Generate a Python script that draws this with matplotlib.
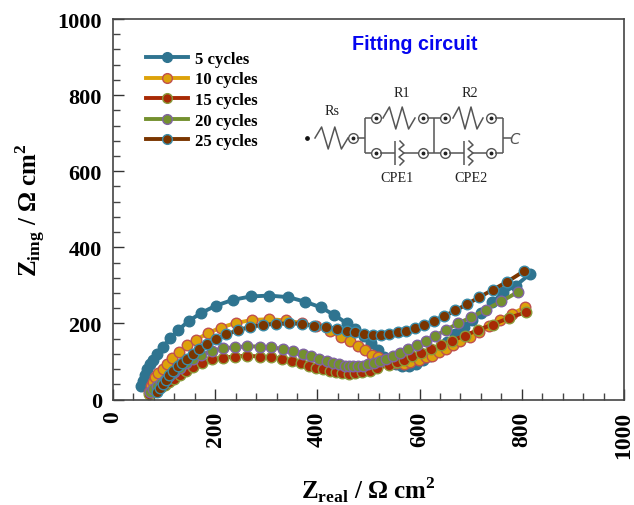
import matplotlib
matplotlib.use('Agg')
import matplotlib.pyplot as plt
import numpy as np
from matplotlib.ticker import MultipleLocator

plt.rcParams['font.family'] = 'Liberation Serif'
plt.rcParams['mathtext.fontset'] = 'custom'
plt.rcParams['mathtext.bf'] = 'Liberation Serif:bold'
plt.rcParams['mathtext.rm'] = 'Liberation Serif:bold'

labels = ['5 cycles', '10 cycles', '15 cycles', '20 cycles', '25 cycles']
fills = ['#2F7490', '#DDA20A', '#A82A05', '#74902F', '#7A3500']
edges = ['#2F7490', '#C0504D', '#8A9A3B', '#8064A2', '#3B8CA8']

x5 = [54, 58, 62, 67, 72, 79, 87, 98, 112, 128, 148, 173, 202, 235, 270, 306, 343, 376, 407, 433, 457, 474,
      491, 505, 518, 530, 542, 553, 566, 579, 592, 606, 621, 637, 654, 670, 686, 703, 721, 742, 764, 788, 816]
y5 = [36, 49, 64, 80, 93, 105, 120, 139, 161, 183, 206, 228, 247, 262, 271, 273, 269, 257, 242, 222, 201, 184,
      166, 148, 129, 111, 98, 92, 88, 88, 94, 103, 115, 130, 150, 172, 190, 209, 228, 255, 282, 299, 330]

x10 = [71, 74, 78, 82, 89, 97, 105, 116, 129, 144, 163, 185, 211, 240, 272, 305, 338, 369, 398, 424, 446,
       463, 480, 494, 507, 518, 530, 543, 553, 570, 582, 598, 612, 625, 638, 652, 666, 680, 699, 717, 736, 758, 780, 806]
y10 = [20, 35, 47, 58, 70, 80, 93, 109, 124, 142, 157, 174, 189, 201, 209, 211, 208, 201, 192, 179, 165,
       153, 140, 129, 118, 111, 104, 98, 95, 93, 98, 104, 111, 115, 124, 133, 142, 153, 165, 178, 192, 209, 225, 242]

x15 = [70, 79, 86, 93, 102, 110, 120, 131, 143, 156, 174, 193, 216, 239, 262, 287, 310, 331, 350, 368, 384, 398, 411,
       424, 436, 448, 461, 474, 487, 502, 517, 540, 555, 570, 586, 602, 622, 642, 664, 688, 715, 743, 774, 809]
y15 = [15, 20, 25, 32, 39, 47, 55, 65, 76, 86, 96, 106, 110, 113, 115, 113, 111, 107, 101, 95, 89, 83, 79,
       75, 71, 69, 67, 69, 72, 76, 82, 91, 98, 105, 114, 122, 133, 143, 155, 168, 183, 197, 214, 230]

x20 = [73, 79, 86, 93, 102, 110, 120, 131, 143, 156, 173, 193, 215, 239, 263, 287, 310, 332, 352, 371, 388, 403, 418,
       431, 443, 454, 462, 470, 480, 489, 499, 510, 522, 535, 547, 562, 577, 594, 612, 631, 652, 675, 701, 729, 760, 793]
y20 = [20, 28, 35, 43, 52, 62, 73, 84, 96, 106, 117, 127, 135, 137, 140, 139, 137, 133, 127, 120, 114, 107, 101,
       95, 92, 89, 87, 87, 87, 89, 92, 95, 100, 106, 114, 122, 132, 142, 154, 168, 183, 200, 216, 236, 258, 283]

x25 = [87, 92, 97, 103, 110, 118, 127, 135, 144, 156, 169, 184, 201, 222, 244, 269, 293, 319, 344, 369, 394, 416, 438, 457,
       474, 491, 509, 525, 541, 557, 574, 591, 609, 628, 648, 670, 692, 717, 744, 772, 804]
y25 = [20, 29, 40, 52, 64, 76, 87, 96, 106, 120, 133, 146, 159, 171, 182, 191, 196, 199, 200, 199, 194, 190, 186, 181,
       177, 172, 170, 170, 172, 177, 181, 188, 196, 207, 219, 234, 250, 269, 289, 310, 337]

series_x = [x5, x10, x15, x20, x25]
series_y = [y5, y10, y15, y20, y25]

fig = plt.figure(figsize=(6.34, 5.06), dpi=100)
ax = fig.add_axes([113 / 634, (506 - 400.5) / 506, 511 / 634, 380.5 / 506])

for xs, ys, lab, fc, ec in zip(series_x, series_y, labels, fills, edges):
    ax.plot(xs, ys, '-o', color=fc, mfc=fc, mec=ec, mew=1.0, ms=7.6, lw=2.8, label=lab)

ax.set_xlim(0, 1000)
ax.set_ylim(0, 1000)
ax.xaxis.set_major_locator(MultipleLocator(200))
ax.xaxis.set_minor_locator(MultipleLocator(40))
ax.yaxis.set_major_locator(MultipleLocator(200))
ax.yaxis.set_minor_locator(MultipleLocator(40))
ax.tick_params(which='major', direction='in', length=8, width=1.0, color='#333333', pad=8)
ax.tick_params(which='minor', direction='in', length=5, width=1.0, color='#444444')
for lab in ax.get_xticklabels():
    lab.set_rotation(90)
    lab.set_fontsize(17)
    lab.set_fontweight('bold')
for lab in ax.get_yticklabels():
    lab.set_fontsize(16)
    lab.set_fontweight('bold')
for sp in ax.spines.values():
    sp.set_color('#444444')
    sp.set_linewidth(1.2)

leg = ax.legend(loc='upper left', bbox_to_anchor=(33 / 511, (400.5 - 52) / 380.5), frameon=False,
                borderpad=0, borderaxespad=0, handlelength=2.5, handletextpad=0.42, labelspacing=0.27,
                prop={'family': 'Liberation Serif', 'weight': 'bold', 'size': 12})
for h in leg.get_lines():
    h.set_markersize(7)

fig.text(368 / 634, 1 - 499 / 506, r'Z$_{\mathbf{real}}$ / Ω cm$^{\mathbf{2}}$', fontsize=18, fontweight='bold',
         ha='center', va='baseline')
fig.text(31 / 634, 1 - 210 / 506, r'Z$_{\mathbf{img}}$ / Ω cm$^{\mathbf{2}}$', fontsize=18, fontweight='bold',
         ha='center', va='center', rotation=90)

# overlay in pixel coordinates for the circuit sketch
ov = fig.add_axes([0, 0, 1, 1])
ov.set_xlim(0, 634)
ov.set_ylim(506, 0)
ov.axis('off')
ov.patch.set_alpha(0)

WIRE = '#555555'


def wire(x0, y0, x1, y1):
    ov.plot([x0, x1], [y0, y1], color=WIRE, lw=1.1, solid_capstyle='butt')


def resistor(x0, x1, y):
    # zigzag with 2 full swings
    xs = np.linspace(x0, x1, 6)
    ys = [y, y - 11, y + 11, y - 11, y + 11, y]
    ov.plot(xs, ys, color=WIRE, lw=1.1)


def terminal(x, y):
    ov.plot([x], [y], 'o', ms=7, mfc='white', mec=WIRE, mew=1.0)
    ov.plot([x], [y], 'o', ms=1.8, color='#222222')


def cpe(x, y):
    wire(x, y - 12, x, y + 12)
    xs = [x + 5, x + 9, x + 4, x + 9, x + 4, x + 9, x + 5]
    ys = np.linspace(y - 12, y + 12, 7)
    ov.plot(xs, ys, color=WIRE, lw=1.1)


ov.plot([306.5], [139], 'o', ms=2.4, color='#111111')
resistor(315, 348, 139)
terminal(353, 139)
wire(357, 139, 365, 139)
wire(365, 119, 365, 154)
wire(434, 119, 434, 154)
wire(503, 119, 503, 154)

for x_l, x_r, x_c, z0, z1 in [(376, 423, 395, 383, 415), (445, 491, 464, 453, 483)]:
    terminal(x_l, 119)
    terminal(x_r, 119)
    terminal(x_l, 154)
    terminal(x_r, 154)
    resistor(z0, z1, 119)
    cpe(x_c, 154)
    wire(x_l + 4, 154, x_c, 154)
    wire(x_c + 8, 154, x_r - 4, 154)

wire(365, 119, 372, 119)
wire(365, 154, 372, 154)
wire(427, 119, 441, 119)
wire(427, 154, 441, 154)
wire(495, 119, 503, 119)
wire(495, 154, 503, 154)
wire(503, 139, 511, 139)
ov.plot([514.5], [139], marker='$C$', ms=8, color=WIRE, mew=0)

for tx, ty, s in [(332, 111, 'Rs'), (402, 93, 'R1'), (470, 93, 'R2'), (397, 178, 'CPE1'), (471, 178, 'CPE2')]:
    ov.text(tx, ty, s, fontsize=10.2, color='#222222', ha='center', va='center')

ov.text(415, 44, 'Fitting circuit', fontsize=14.2, fontweight='bold', color='#0505F0',
        family='Liberation Sans', ha='center', va='center')

fig.savefig('out.png', dpi=100)
